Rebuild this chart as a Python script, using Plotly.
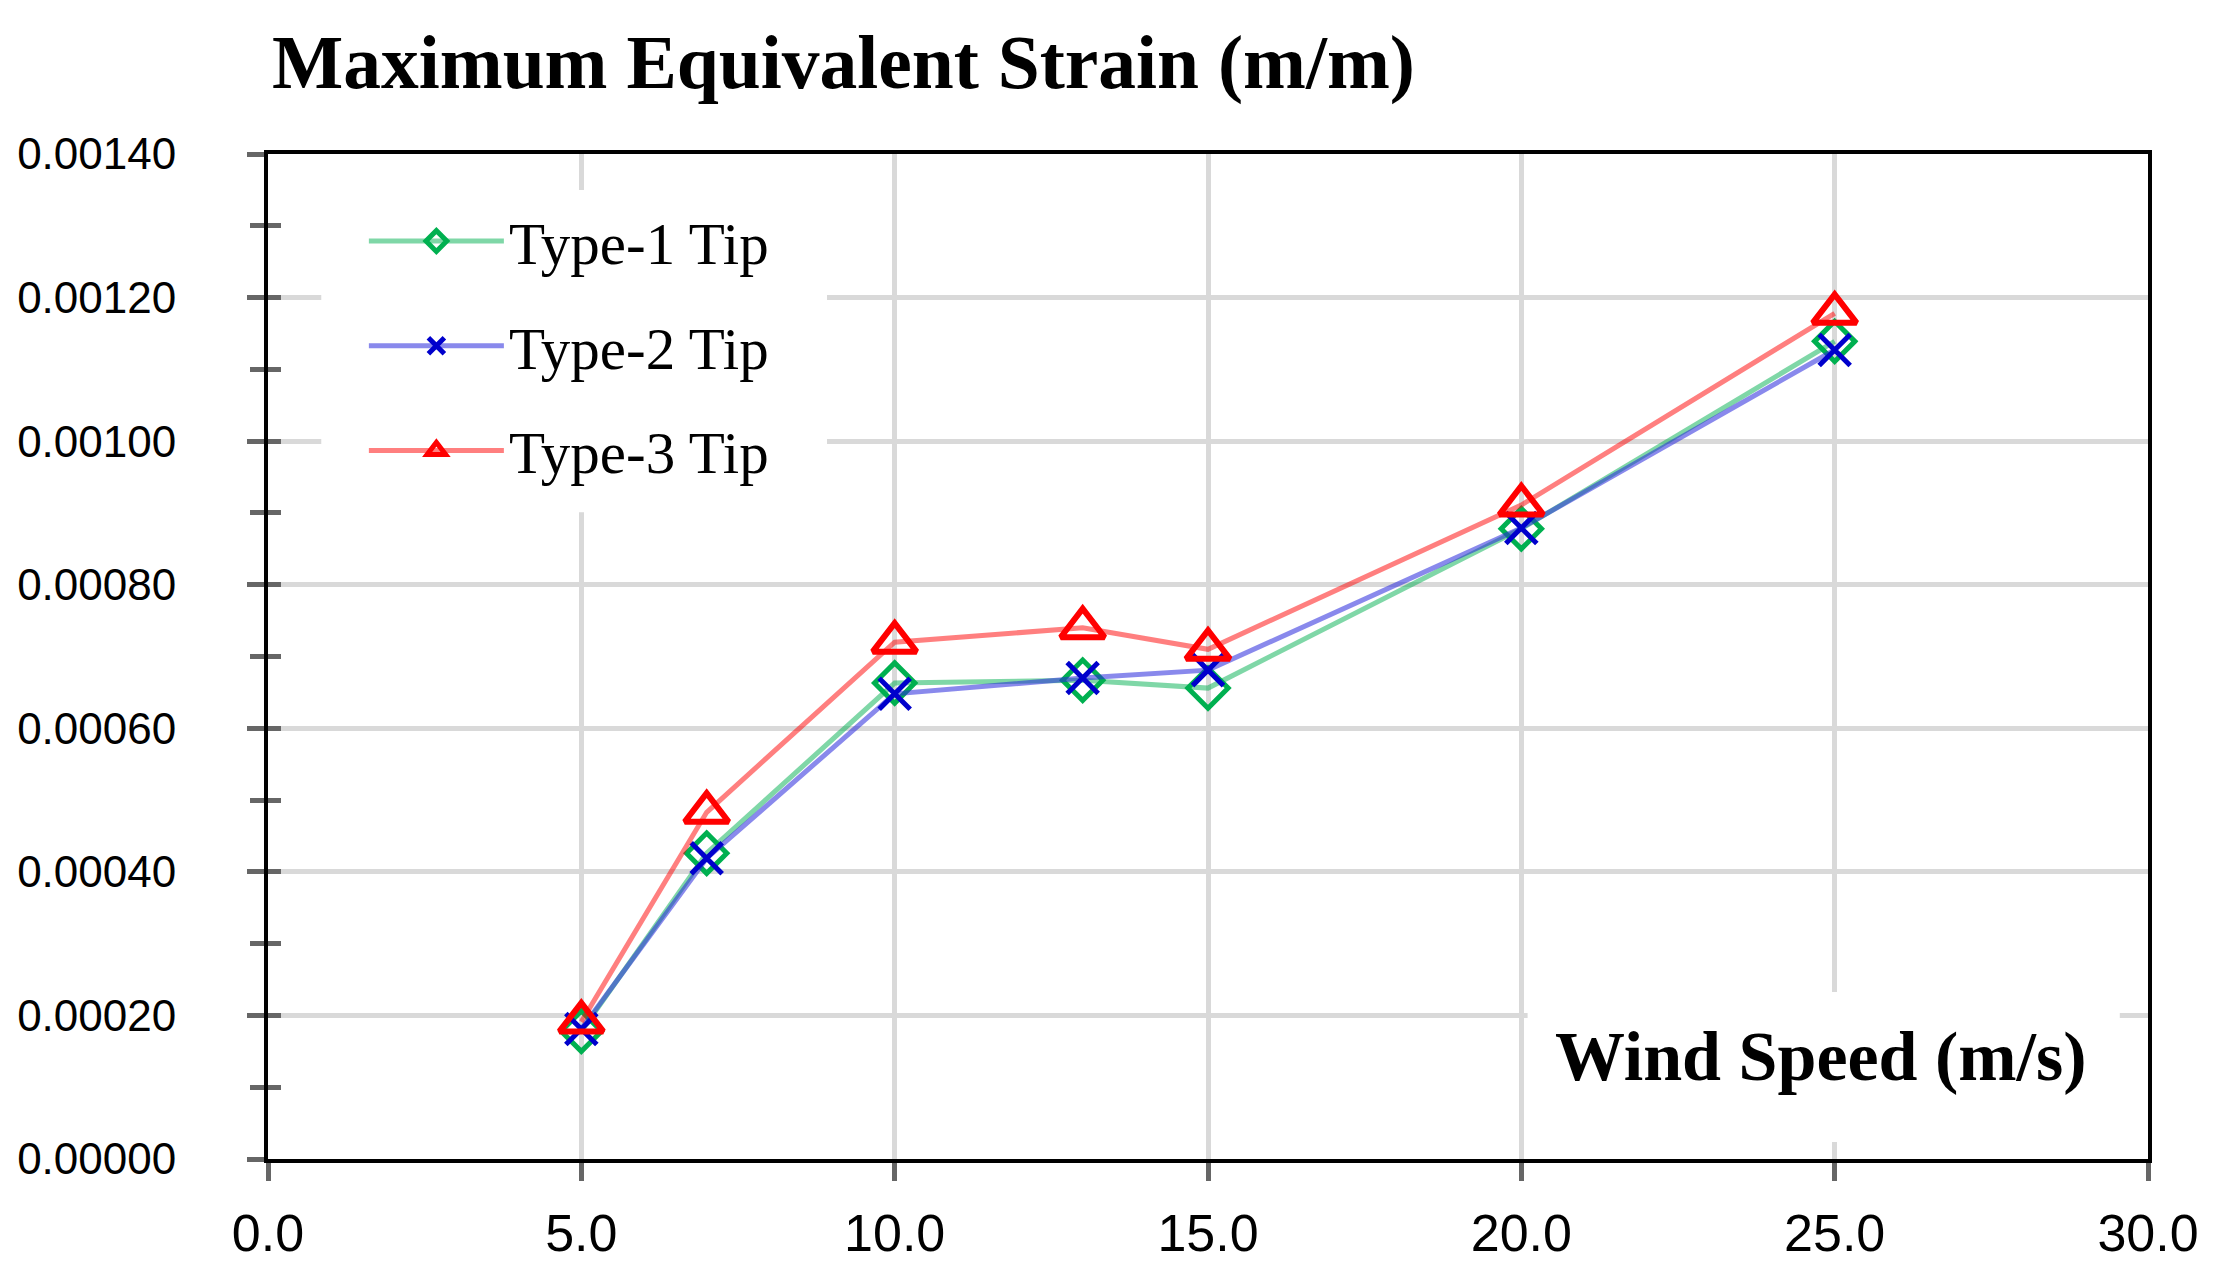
import plotly.graph_objects as go

# ---- data ----
wind_speed = [5, 7, 10, 13, 15, 20, 25]
type1_tip = [0.000178, 0.000426, 0.000663, 0.000667, 0.000656, 0.000878, 0.001139]
type2_tip = [0.000181, 0.000419, 0.000648, 0.000670, 0.000681, 0.000879, 0.001127]
type3_tip = [0.000191, 0.000483, 0.000720, 0.000740, 0.000710, 0.000911, 0.001178]

series_names = ["Type-1 Tip", "Type-2 Tip", "Type-3 Tip"]
x_ticks = [0, 5, 10, 15, 20, 25, 30]
y_ticks = [0, 0.0002, 0.0004, 0.0006, 0.0008, 0.0010, 0.0012, 0.0014]

title_text = "Maximum Equivalent Strain (m/m)"
xlabel_text = "Wind Speed (m/s)"

# page body has an 8px default margin, so the figure is drawn 8px smaller
W, H = 2215, 1269
L, R, T, B = 260, 75, 146, 118

fig = go.Figure()

styles = [
    dict(line=dict(color="rgba(0,176,80,0.5)", width=5),
         marker=dict(symbol="diamond-open", size=31, color="#00b050",
                     line=dict(color="#00b050", width=5))),
    dict(line=dict(color="rgba(40,40,220,0.55)", width=5),
         marker=dict(symbol="x-thin-open", size=31, color="#0000cc",
                     line=dict(color="#0000cc", width=5))),
    dict(line=dict(color="rgba(255,0,0,0.5)", width=5),
         marker=dict(symbol="triangle-up-open", size=38, color="#ff0000",
                     line=dict(color="#ff0000", width=6))),
]

for i, (name, ys) in enumerate(zip(series_names, [type1_tip, type2_tip, type3_tip])):
    fig.add_trace(go.Scatter(
        x=wind_speed, y=ys, name=name, mode="lines+markers",
        legendgroup=f"g{i}", **styles[i]))

# invisible trace that activates the overlay axis carrying the inner tick halves
fig.add_trace(go.Scatter(
    x=wind_speed, y=type1_tip, yaxis="y2", mode="lines",
    line=dict(width=0, color="rgba(0,0,0,0)"), showlegend=False,
    hoverinfo="skip"))

# white backgrounds that hide gridlines under the legend and the axis caption
fig.add_shape(type="rect", xref="x", yref="y", layer="between",
              x0=0.85, x1=8.92, y0=0.000901, y1=0.00135,
              fillcolor="white", line=dict(width=0))
fig.add_shape(type="rect", xref="x", yref="y", layer="between",
              x0=20.1, x1=29.55, y0=0.0000237, y1=0.0002326,
              fillcolor="white", line=dict(width=0))

fig.add_annotation(
    text=f"<b>{xlabel_text}</b>", xref="paper", yref="paper",
    x=0.826, y=0.1015, xanchor="center", yanchor="middle",
    showarrow=False,
    font=dict(family="Liberation Serif", size=70, color="black"))

fig.update_layout(
    width=W, height=H,
    margin=dict(l=L, r=R, t=T, b=B, autoexpand=False),
    paper_bgcolor="white", plot_bgcolor="white",
    title=dict(text=f"<b>{title_text}</b>", x=264 / W, xanchor="left",
               xref="container", yref="container",
               y=1 - 54 / H, yanchor="middle", automargin=False,
               font=dict(family="Liberation Serif", size=75.5, color="black")),
    showlegend=True,
    legend=dict(x=0.051, y=0.958, xanchor="left", yanchor="top",
                bgcolor="rgba(0,0,0,0)", borderwidth=0,
                traceorder="grouped", tracegroupgap=25,
                itemwidth=135,
                font=dict(family="Liberation Serif", size=59, color="black")),
    xaxis=dict(range=[0, 30], tickvals=x_ticks,
               ticktext=[f"{v:.1f}" for v in x_ticks],
               showgrid=True, gridcolor="#d9d9d9", gridwidth=5,
               showline=True, linecolor="black", linewidth=4, mirror=True,
               ticks="outside", ticklen=18, tickwidth=5, tickcolor="#666666",
               ticklabelstandoff=8, automargin=False,
               tickfont=dict(family="Liberation Sans", size=52, color="black"),
               zeroline=False),
    yaxis=dict(range=[0, 0.0014], tickvals=y_ticks,
               ticktext=[f"{v:.5f}" for v in y_ticks],
               showgrid=True, gridcolor="#d9d9d9", gridwidth=5,
               showline=True, linecolor="black", linewidth=4, mirror=True,
               ticks="outside", ticklen=17, tickwidth=5, tickcolor="#666666",
               ticklabelstandoff=62, automargin=False,
               minor=dict(dtick=0.0001, ticks="outside", ticklen=14,
                          tickwidth=5, tickcolor="#666666", showgrid=False),
               tickfont=dict(family="Liberation Sans", size=44, color="black"),
               zeroline=False),
    # inner half of the crossing tick marks on the value axis
    yaxis2=dict(overlaying="y", side="left", range=[0, 0.0014],
                tickvals=y_ticks, showticklabels=False, showgrid=False,
                showline=False, zeroline=False, automargin=False,
                ticks="inside", ticklen=13, tickwidth=5, tickcolor="#666666",
                minor=dict(dtick=0.0001, ticks="inside", ticklen=13,
                           tickwidth=5, tickcolor="#666666", showgrid=False)),
)

fig.write_html("out.html")
